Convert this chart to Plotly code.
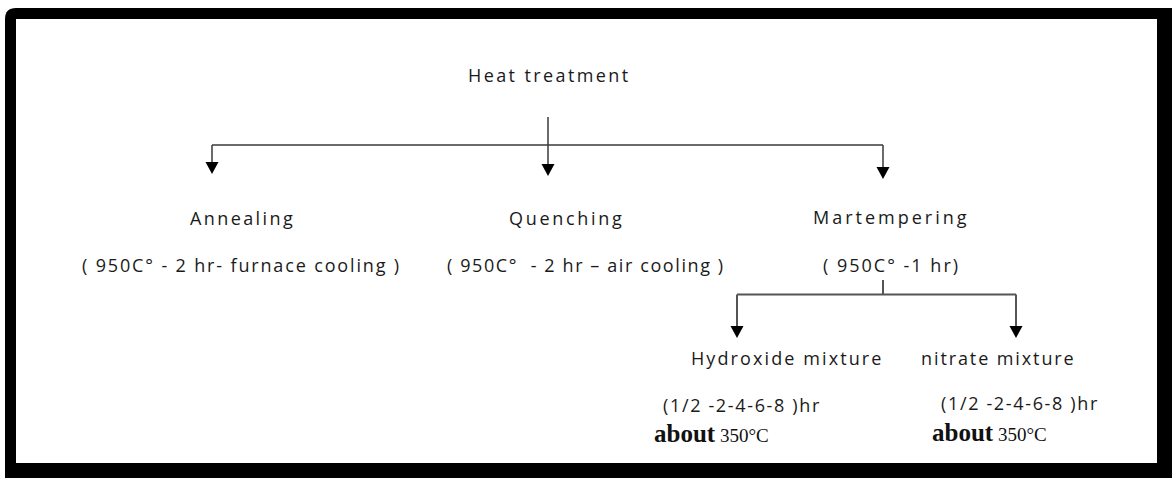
import plotly.graph_objects as go

W, H = 1172, 478

# ---- diagram content ----
node_labels = ["Heat treatment", "Annealing", "Quenching", "Martempering",
               "Hydroxide mixture", "nitrate mixture"]
node_x = [548, 241, 566, 890, 786, 998]
node_y = [75, 218, 218, 217, 358, 358]

detail_labels = ["( 950C\u00b0 - 2 hr- furnace cooling )",
                 "( 950C\u00b0  - 2 hr \u2013 air cooling )",
                 "( 950C\u00b0 -1 hr)"]
detail_x = [241, 585, 890]
detail_y = [265, 265, 265]

time_labels = ["(1/2 -2-4-6-8 )hr", "(1/2 -2-4-6-8 )hr"]
time_x = [741, 1019]
time_y = [405, 403]

temp_word = ["about", "about"]
temp_value = ["350\u00b0C", "350\u00b0C"]
temp_x = [652, 930]
temp_y = [433, 432]

# branch 1: Heat treatment -> three processes
b1_stem_x, b1_stem_top, b1_bar_y = 548, 117, 145
b1_targets_x = [212, 548, 883]
b1_tip_y = [174, 176, 179]
# branch 2: Martempering -> two baths
b2_stem_x, b2_stem_top, b2_bar_y = 883, 280, 294.5
b2_targets_x = [737, 1016]
b2_tip_y = [338, 338]

LINE = "#3a3a3a"
TXT = "#1a1a1a"
SANS = "Open Sans"
SERIF = "Liberation Serif"

fig = go.Figure()
fig.add_trace(go.Scatter(x=[0, W], y=[0, H], mode="markers",
                         marker=dict(opacity=0), hoverinfo="skip", showlegend=False))

shapes = []
# frame (black border with rounded top-left corner)
shapes.append(dict(type="path", path="M 5,19 Q 5,8 16,8 L 1172,8 L 1172,478 L 5,478 Z",
                   fillcolor="black", line=dict(width=0), layer="below"))
shapes.append(dict(type="rect", x0=16, y0=19, x1=1157, y1=463,
                   fillcolor="white", line=dict(width=0), layer="below"))


def seg(x0, y0, x1, y1, color=LINE, w=1.5):
    shapes.append(dict(type="line", x0=x0, y0=y0, x1=x1, y1=y1,
                       line=dict(color=color, width=w)))


def arrowhead(x, tip):
    hw, hh = 6.5, 12
    shapes.append(dict(type="path",
                       path=f"M {x-hw},{tip-hh} L {x+hw},{tip-hh} L {x},{tip} Z",
                       fillcolor="black", line=dict(width=0)))


def branch(stem_x, stem_top, bar_y, targets, tips, color=LINE, w=1.5):
    seg(stem_x, stem_top, stem_x, bar_y, color, w)
    seg(min(targets), bar_y, max(targets), bar_y, color, w)
    for tx, tip in zip(targets, tips):
        seg(tx, bar_y, tx, tip - 10, color, w)
        arrowhead(tx, tip)


branch(b1_stem_x, b1_stem_top, b1_bar_y, b1_targets_x, b1_tip_y)
branch(b2_stem_x, b2_stem_top, b2_bar_y, b2_targets_x, b2_tip_y, color="#555555", w=2)

annotations = []


def label(text, x, y, size=18, spacing=2.0, family=SANS, anchor="center"):
    annotations.append(dict(
        x=x + spacing / 2, y=y, xref="x", yref="y", showarrow=False,
        text=f'<span style="letter-spacing:{spacing}px">{text}</span>',
        font=dict(family=family, size=size, color=TXT),
        xanchor=anchor, yanchor="middle"))


node_spacing = [2.4, 2.4, 2.7, 3.0, 2.1, 1.9]
for t, x, y, sp in zip(node_labels, node_x, node_y, node_spacing):
    label(t, x, y, spacing=sp)

detail_spacing = [1.85, 1.6, 2.0]
for t, x, y, sp in zip(detail_labels, detail_x, detail_y, detail_spacing):
    label(t, x, y, spacing=sp)

for t, x, y in zip(time_labels, time_x, time_y):
    label(t, x, y, spacing=1.65)

for w_, v, x, y in zip(temp_word, temp_value, temp_x, temp_y):
    annotations.append(dict(
        x=x, y=y, xref="x", yref="y", showarrow=False,
        text=f'<b><span style="font-size:25px">{w_}</span></b> {v}',
        font=dict(family=SERIF, size=19, color="#111111"),
        xanchor="left", yanchor="middle"))

fig.update_layout(
    width=W, height=H,
    margin=dict(l=0, r=0, t=0, b=0),
    paper_bgcolor="white", plot_bgcolor="white",
    xaxis=dict(range=[0, W], visible=False, fixedrange=True),
    yaxis=dict(range=[H, 0], visible=False, fixedrange=True),
    shapes=shapes, annotations=annotations, showlegend=False,
)

fig.write_html("out.html", config={"displayModeBar": False},
               post_script="document.body.style.margin='0';document.body.style.overflow='hidden';")
